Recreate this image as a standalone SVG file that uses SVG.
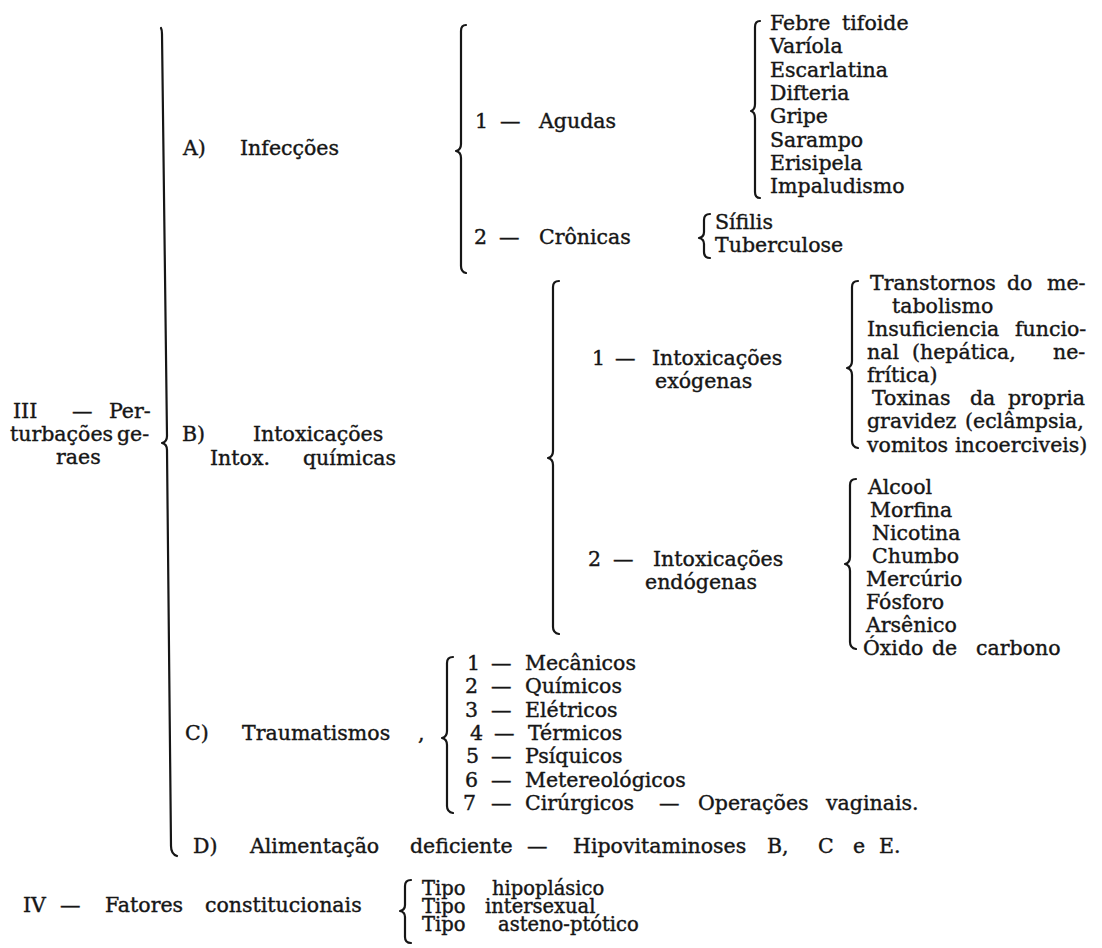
<svg xmlns="http://www.w3.org/2000/svg" width="1102" height="948" viewBox="0 0 1102 948">
<style>
text{font-family:"DejaVu Serif","Liberation Serif",serif;font-size:20.5px;fill:#161616;stroke:#161616;stroke-width:0.4}
.sm{font-size:19.5px}
.br{fill:none;stroke:#161616;stroke-width:2.2;stroke-linecap:round;stroke-linejoin:round}
</style>
<rect width="1102" height="948" fill="#fff"/>
<g id="connectors">
<path class="br" d="M161,28 Q162,30 162,34 L167,436 Q167,442 162,443 Q167,444 167,450 L171,846 Q171,854 177,856"/>
<path class="br" d="M466,25 Q461,25 461,31 L461,144 Q461,150 456,151 Q461,152 461,158 L461,266 Q461,272 466,273"/>
<path class="br" d="M760,21 Q755,21 755,27 L755,104 Q755,110 751,111 Q755,112 755,118 L755,192 Q755,198 760,198"/>
<path class="br" d="M710,214 Q704,214 704,220 L704,232 Q704,237 699,238 Q704,239 704,244 L704,252 Q704,258 710,258"/>
<path class="br" d="M559,281 Q553,281 553,287 L553,451 Q553,457 548,458 Q553,459 553,465 L553,627 Q553,633 559,634"/>
<path class="br" d="M858,281 Q852,281 852,287 L852,361 Q852,367 847,368 Q852,369 852,375 L852,441 Q852,447 858,448"/>
<path class="br" d="M856,479 Q850,479 850,485 L850,557 Q850,563 845,564 Q850,565 850,571 L850,642 Q850,648 856,649"/>
<path class="br" d="M453,657 Q447,657 447,663 L447,731 Q447,737 442,738 Q447,739 447,745 L447,806 Q447,812 453,813"/>
<path class="br" d="M411,880 Q405,880 405,886 L405,905 Q405,910 400,911 Q405,912 405,917 L405,937 Q405,943 411,943"/>
</g>
<g id="node-III">
<text y="418"><tspan x="13">III</tspan><tspan x="72">—</tspan><tspan x="109">Per-</tspan></text>
<text y="441"><tspan x="10">turbações</tspan><tspan x="117">ge-</tspan></text>
<text x="56" y="464">raes</text>
</g>
<g id="node-A">
<text y="155"><tspan x="183">A)</tspan><tspan x="240">Infecções</tspan></text>
</g>
<g id="node-A1">
<text y="128"><tspan x="475">1</tspan><tspan x="500">—</tspan><tspan x="539">Agudas</tspan></text>
</g>
<g id="node-A1-list">
<text y="30"><tspan x="770">Febre</tspan><tspan x="842">tifoide</tspan></text>
<text x="770" y="53">Varíola</text>
<text x="770" y="77">Escarlatina</text>
<text x="770" y="100">Difteria</text>
<text x="770" y="123">Gripe</text>
<text x="770" y="147">Sarampo</text>
<text x="770" y="170">Erisipela</text>
<text x="770" y="193">Impaludismo</text>
</g>
<g id="node-A2">
<text y="244"><tspan x="474">2</tspan><tspan x="499">—</tspan><tspan x="539">Crônicas</tspan></text>
</g>
<g id="node-A2-list">
<text x="715" y="229">Sífilis</text>
<text x="715" y="252">Tuberculose</text>
</g>
<g id="node-B">
<text y="441"><tspan x="182">B)</tspan><tspan x="253">Intoxicações</tspan></text>
<text y="465"><tspan x="210">Intox.</tspan><tspan x="303">químicas</tspan></text>
</g>
<g id="node-B1">
<text y="365"><tspan x="592">1</tspan><tspan x="615">—</tspan><tspan x="652">Intoxicações</tspan></text>
<text x="655" y="388">exógenas</text>
</g>
<g id="node-B1-list">
<text y="290"><tspan x="870">Transtornos</tspan><tspan x="1007">do</tspan><tspan x="1047">me-</tspan></text>
<text x="892" y="313">tabolismo</text>
<text y="336"><tspan x="867">Insuficiencia</tspan><tspan x="1015">funcio-</tspan></text>
<text y="359"><tspan x="867">nal</tspan><tspan x="912">(hepática,</tspan><tspan x="1053">ne-</tspan></text>
<text x="867" y="382">frítica)</text>
<text y="405"><tspan x="872">Toxinas</tspan><tspan x="970">da</tspan><tspan x="1008">propria</tspan></text>
<text y="428"><tspan x="867">gravidez</tspan><tspan x="965">(eclâmpsia,</tspan></text>
<text y="452"><tspan x="867">vomitos</tspan><tspan x="955">incoerciveis)</tspan></text>
</g>
<g id="node-B2">
<text y="566"><tspan x="588">2</tspan><tspan x="613">—</tspan><tspan x="653">Intoxicações</tspan></text>
<text x="645" y="589">endógenas</text>
</g>
<g id="node-B2-list">
<text x="868" y="494">Alcool</text>
<text x="870" y="517">Morfina</text>
<text x="872" y="540">Nicotina</text>
<text x="872" y="563">Chumbo</text>
<text x="866" y="586">Mercúrio</text>
<text x="866" y="609">Fósforo</text>
<text x="866" y="632">Arsênico</text>
<text y="655"><tspan x="863">Óxido</tspan><tspan x="932">de</tspan><tspan x="976">carbono</tspan></text>
</g>
<g id="node-C">
<text y="740"><tspan x="185">C)</tspan><tspan x="242">Traumatismos</tspan><tspan x="418">,</tspan></text>
</g>
<g id="node-C-list">
<text y="670"><tspan x="467">1</tspan><tspan x="491">—</tspan><tspan x="525">Mecânicos</tspan></text>
<text y="693"><tspan x="465">2</tspan><tspan x="491">—</tspan><tspan x="525">Químicos</tspan></text>
<text y="717"><tspan x="465">3</tspan><tspan x="491">—</tspan><tspan x="525">Elétricos</tspan></text>
<text y="740"><tspan x="470">4</tspan><tspan x="494">—</tspan><tspan x="528">Térmicos</tspan></text>
<text y="763"><tspan x="466">5</tspan><tspan x="491">—</tspan><tspan x="525">Psíquicos</tspan></text>
<text y="787"><tspan x="465">6</tspan><tspan x="491">—</tspan><tspan x="525">Metereológicos</tspan></text>
<text y="810"><tspan x="463">7</tspan><tspan x="491">—</tspan><tspan x="525">Cirúrgicos</tspan><tspan x="659">—</tspan><tspan x="698">Operações</tspan><tspan x="826">vaginais.</tspan></text>
</g>
<g id="node-D">
<text y="853"><tspan x="193">D)</tspan><tspan x="250">Alimentação</tspan><tspan x="410">deficiente</tspan><tspan x="527">—</tspan><tspan x="573">Hipovitaminoses</tspan><tspan x="767">B,</tspan><tspan x="818">C</tspan><tspan x="853">e</tspan><tspan x="879">E.</tspan></text>
</g>
<g id="node-IV">
<text y="912"><tspan x="23">IV</tspan><tspan x="60">—</tspan><tspan x="105">Fatores</tspan><tspan x="205">constitucionais</tspan></text>
</g>
<g id="node-IV-list">
<text class="sm" y="895"><tspan x="422">Tipo</tspan><tspan x="492">hipoplásico</tspan></text>
<text class="sm" y="913"><tspan x="422">Tipo</tspan><tspan x="485">intersexual</tspan></text>
<text class="sm" y="931"><tspan x="422">Tipo</tspan><tspan x="498">asteno-ptótico</tspan></text>
</g>
</svg>
